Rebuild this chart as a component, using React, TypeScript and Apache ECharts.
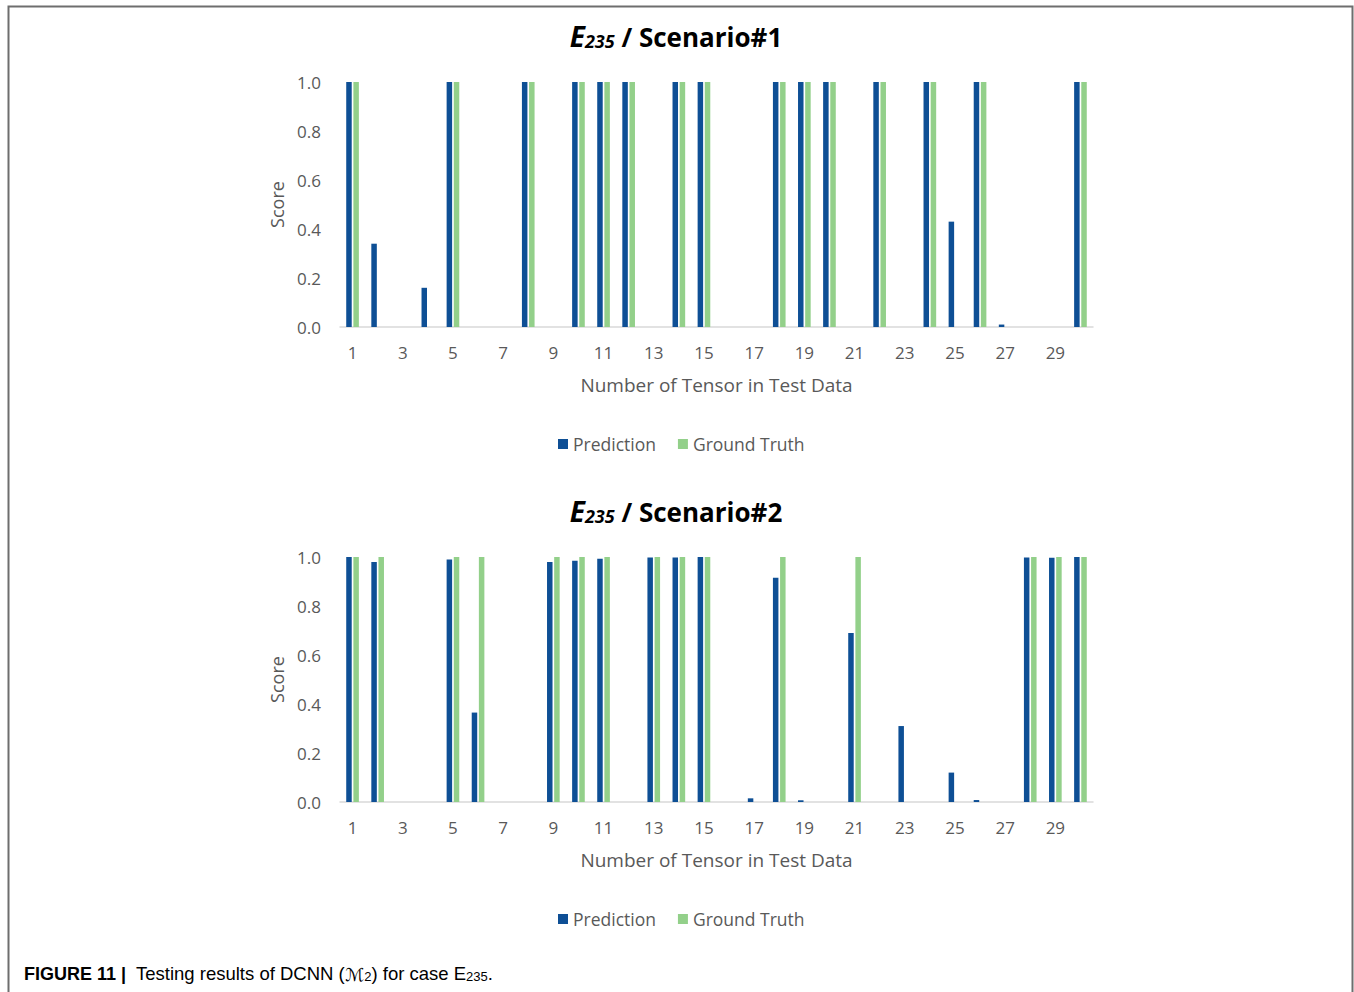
import React, { useEffect, useRef } from "react";
import * as echarts from "echarts";

const categories = Array.from({ length: 30 }, (_, i) => String(i + 1));

const pred1 = [1, 0.34, 0, 0.16, 1, 0, 0, 1, 0, 1, 1, 1, 0, 1, 1, 0, 0, 1, 1, 1, 0, 1, 0, 1, 0.43, 1, 0.01, 0, 0, 1];
const truth1 = [1, 0, 0, 0, 1, 0, 0, 1, 0, 1, 1, 1, 0, 1, 1, 0, 0, 1, 1, 1, 0, 1, 0, 1, 0, 1, 0, 0, 0, 1];

const pred2 = [1, 0.98, 0, 0, 0.99, 0.365, 0, 0, 0.98, 0.985, 0.993, 0, 0.998, 0.998, 1, 0, 0.015, 0.915, 0.007, 0, 0.69, 0, 0.31, 0, 0.12, 0.008, 0, 0.998, 0.997, 1];
const truth2 = [1, 1, 0, 0, 1, 1, 0, 0, 1, 1, 1, 0, 1, 1, 1, 0, 0, 1, 0, 0, 1, 0, 0, 0, 0, 0, 0, 1, 1, 1];

const seriesNames = ["Prediction", "Ground Truth"];
const yTicks = ["0.0", "0.2", "0.4", "0.6", "0.8", "1.0"];
const titles = ["Scenario#1", "Scenario#2"];

const BLUE = "#0E4F95";
const GREEN = "#93D08A";
const TEXT = "#595959";
const FONT = "'Open Sans', 'Noto Sans', sans-serif";

export default function App() {
  const ref = useRef<HTMLDivElement>(null);
  useEffect(() => {
    if (!ref.current) return;
    const chart = echarts.init(ref.current, undefined, { renderer: "svg" });
    const tops = [82, 557];
    const grids = tops.map((t) => ({ left: 340, width: 753, top: t, height: 245, containLabel: false }));
    const xAxes = tops.map((_, i) => ({
      type: "category" as const,
      gridIndex: i,
      data: categories,
      axisTick: { show: false },
      axisLine: { lineStyle: { color: "#D9D9D9", width: 1.5 } },
      axisLabel: { interval: 1, color: TEXT, fontSize: 17, fontFamily: FONT, margin: 17 },
      name: "Number of Tensor in Test Data",
      nameLocation: "middle" as const,
      nameGap: 48,
      nameTextStyle: { color: TEXT, fontSize: 19, fontFamily: FONT },
    }));
    const yAxes = tops.map((_, i) => ({
      type: "value" as const,
      gridIndex: i,
      min: 0,
      max: 1,
      interval: 0.2,
      splitLine: { show: false },
      axisLine: { show: false },
      axisTick: { show: false },
      axisLabel: {
        color: TEXT,
        fontSize: 17,
        fontFamily: FONT,
        margin: 19,
        formatter: (v: number) => yTicks[Math.round(v * 5)] ?? v.toFixed(1),
      },
      name: "Score",
      nameLocation: "middle" as const,
      nameGap: 53,
      nameTextStyle: { color: TEXT, fontSize: 18, fontFamily: FONT },
    }));
    const data = [
      [pred1, truth1],
      [pred2, truth2],
    ];
    const series: any[] = [];
    data.forEach((pair, gi) => {
      pair.forEach((vals, si) => {
        series.push({
          type: "bar",
          name: seriesNames[si],
          xAxisIndex: gi,
          yAxisIndex: gi,
          data: vals,
          barWidth: 5.5,
          barGap: "30%",
          itemStyle: { color: si === 0 ? BLUE : GREEN },
        });
      });
    });
    const titleRich = {
      e: { fontSize: 28, fontWeight: "bold", fontStyle: "italic", fontFamily: FONT, color: "#000", verticalAlign: "bottom", lineHeight: 32 },
      sub: { fontSize: 18, fontWeight: "bold", fontStyle: "italic", fontFamily: FONT, color: "#000", verticalAlign: "bottom", lineHeight: 16 },
      n: { fontSize: 26, fontWeight: "bold", fontFamily: FONT, color: "#000", verticalAlign: "bottom", lineHeight: 32 },
    };
    const titleCenters = [34, 509];
    const capFont = "'Liberation Sans', Arial, sans-serif";
    const capRich = {
      b: { fontFamily: capFont, fontSize: 18, fontWeight: "bold", color: "#222", verticalAlign: "bottom", lineHeight: 22 },
      n: { fontFamily: capFont, fontSize: 18.5, color: "#222", verticalAlign: "bottom", lineHeight: 22 },
      m: { fontFamily: "'DejaVu Sans', sans-serif", fontSize: 18, color: "#222", verticalAlign: "bottom", lineHeight: 22 },
      s: { fontFamily: capFont, fontSize: 13, color: "#222", verticalAlign: "bottom", lineHeight: 16 },
    };
    chart.setOption({
      animation: false,
      backgroundColor: "#fff",
      grid: grids,
      xAxis: xAxes,
      yAxis: yAxes,
      series,
      legend: [443, 918].map((y) => ({
        data: seriesNames,
        top: y - 13,
        left: 553,
        itemWidth: 10,
        itemHeight: 10,
        itemGap: 22,
        icon: "rect",
        textStyle: { color: TEXT, fontSize: 17.5, fontFamily: FONT },
      })),
      graphic: [
        {
          type: "polyline",
          shape: { points: [[8.5, 1000], [8.5, 6.5], [1352.5, 6.5], [1352.5, 1000]] },
          style: { stroke: "#6E6E6E", lineWidth: 2, fill: "none" },
        },
        ...titles.map((t, i) => ({
          type: "text",
          x: 676,
          y: titleCenters[i],
          style: {
            text: `{e|E}{sub|235}{n| / ${t}}`,
            rich: titleRich,
            align: "center",
            verticalAlign: "middle",
          },
        })),
        {
          type: "text",
          x: 24,
          y: 972,
          style: {
            text: "{b|FIGURE 11 |}{n|  Testing results of DCNN (}{m|ℳ}{s|2}{n|) for case E}{s|235}{n|.}",
            rich: capRich,
            align: "left",
            verticalAlign: "middle",
          },
        },
      ],
    });
    return () => chart.dispose();
  }, []);
  return <div ref={ref} style={{ position: "absolute", left: 0, top: 0, width: 1354, height: 992 }} />;
}
